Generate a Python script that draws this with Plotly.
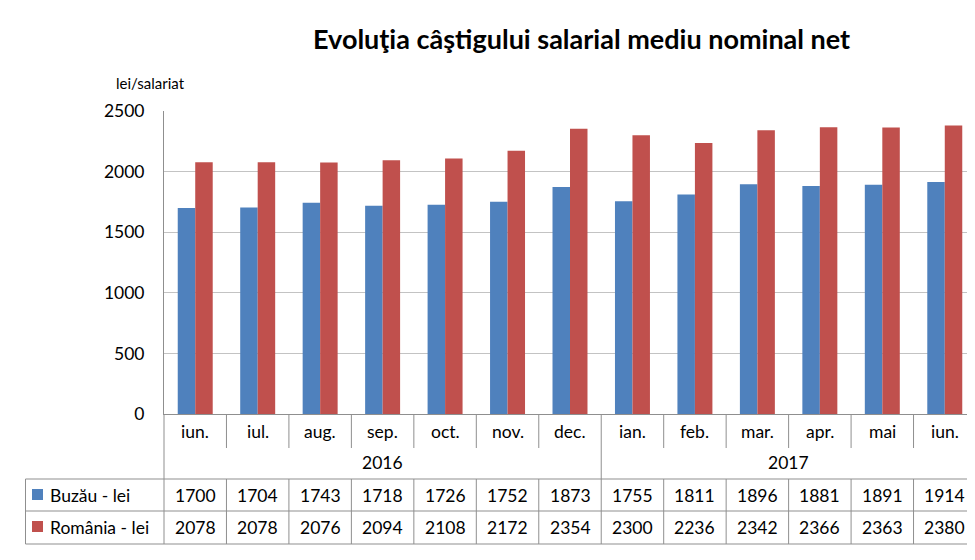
import plotly.graph_objects as go

months = ["iun.", "iul.", "aug.", "sep.", "oct.", "nov.", "dec.",
          "ian.", "feb.", "mar.", "apr.", "mai", "iun."]
years = ["2016", "2017"]
year_spans = [(0, 6), (7, 12)]
series_names = ["Buzău - lei", "România - lei"]
buzau = [1700, 1704, 1743, 1718, 1726, 1752, 1873, 1755, 1811, 1896, 1881, 1891, 1914]
romania = [2078, 2078, 2076, 2094, 2108, 2172, 2354, 2300, 2236, 2342, 2366, 2363, 2380]
colors = ["#4F81BD", "#C0504D"]

W, H = 975, 560
OFF = 8  # page body margin
FONT = "Lato"
LINE = "#8f8f8f"
TXT = 17.5


def py(p):
    # screen pixel row -> paper y
    return 1 - (p - OFF) / H


def px_(p):
    return (p - OFF) / W


def note(text, x, y, xref="paper", size=TXT, xanchor="center"):
    return dict(text=text, x=x, y=y, xref=xref, yref="paper", showarrow=False,
                xanchor=xanchor, yanchor="middle", font=dict(size=size, color="black"))


x = list(range(len(months)))
fig = go.Figure()
for name, vals, col in zip(series_names, [buzau, romania], colors):
    fig.add_trace(go.Bar(x=x, y=vals, name=name, marker_color=col,
                         marker_line_width=0, showlegend=False))

annotations = []
shapes = []

# title and unit
annotations.append(note("<b>Evoluţia câştigului salarial mediu nominal net</b>",
                        px_(581), py(38), size=27))
annotations.append(note("lei/salariat", px_(114), py(83), size=15, xanchor="left"))

# month row
for i, m in enumerate(months):
    annotations.append(note(m, i, py(431), xref="x"))
# year row
for yr, (a, b) in zip(years, year_spans):
    annotations.append(note(yr, (a + b) / 2, py(462), xref="x"))
# data rows
row_mid = [495, 527]
for name, vals, col, rm in zip(series_names, [buzau, romania], colors, row_mid):
    shapes.append(dict(type="rect", xref="paper", yref="paper",
                       x0=px_(32), x1=px_(43), y0=py(rm + 5), y1=py(rm - 6),
                       fillcolor=col, line_width=0))
    annotations.append(note(name, px_(48), py(rm), xanchor="left"))
    for i, v in enumerate(vals):
        annotations.append(note(str(v), i, py(rm), xref="x"))

# table grid
for yy in [479, 511, 544]:
    shapes.append(dict(type="line", xref="paper", yref="paper", x0=px_(25.5), x1=1,
                       y0=py(yy), y1=py(yy), line=dict(color=LINE, width=1)))
shapes.append(dict(type="line", xref="paper", yref="paper", x0=px_(25.5), x1=px_(25.5),
                   y0=py(479), y1=py(544), line=dict(color=LINE, width=1)))
shapes.append(dict(type="line", xref="paper", yref="paper", x0=px_(164), x1=px_(164),
                   y0=py(414), y1=py(544), line=dict(color=LINE, width=1)))
for i in range(len(months) - 1):
    b = i + 0.5
    full = b == year_spans[0][1] + 0.5
    shapes.append(dict(type="line", xref="x", yref="paper", x0=b, x1=b,
                       y0=py(414), y1=py(544 if full else 448), line=dict(color=LINE, width=1)))
    if not full:
        shapes.append(dict(type="line", xref="x", yref="paper", x0=b, x1=b,
                           y0=py(479), y1=py(544), line=dict(color=LINE, width=1)))

fig.update_layout(
    width=W, height=H,
    margin=dict(l=0, r=0, t=0, b=0, pad=0, autoexpand=False),
    paper_bgcolor="white", plot_bgcolor="white",
    font=dict(family=FONT, color="black"),
    barmode="group", bargap=0.44, bargroupgap=0,
    annotations=annotations, shapes=shapes,
    xaxis=dict(domain=[px_(164), px_(976)], range=[-0.5, len(months) - 0.5],
               showticklabels=False, showgrid=False, zeroline=False, automargin=False,
               showline=True, linecolor=LINE, linewidth=1, fixedrange=True),
    yaxis=dict(domain=[py(414), py(111)], range=[0, 2500], dtick=500, automargin=False,
               showgrid=True, gridcolor="#c3c3c3", gridwidth=1, zeroline=False,
               showline=True, linecolor=LINE, linewidth=1,
               tickfont=dict(size=TXT, color="black"), ticklabelstandoff=15,
               fixedrange=True),
)

fig.write_html("out.html")
